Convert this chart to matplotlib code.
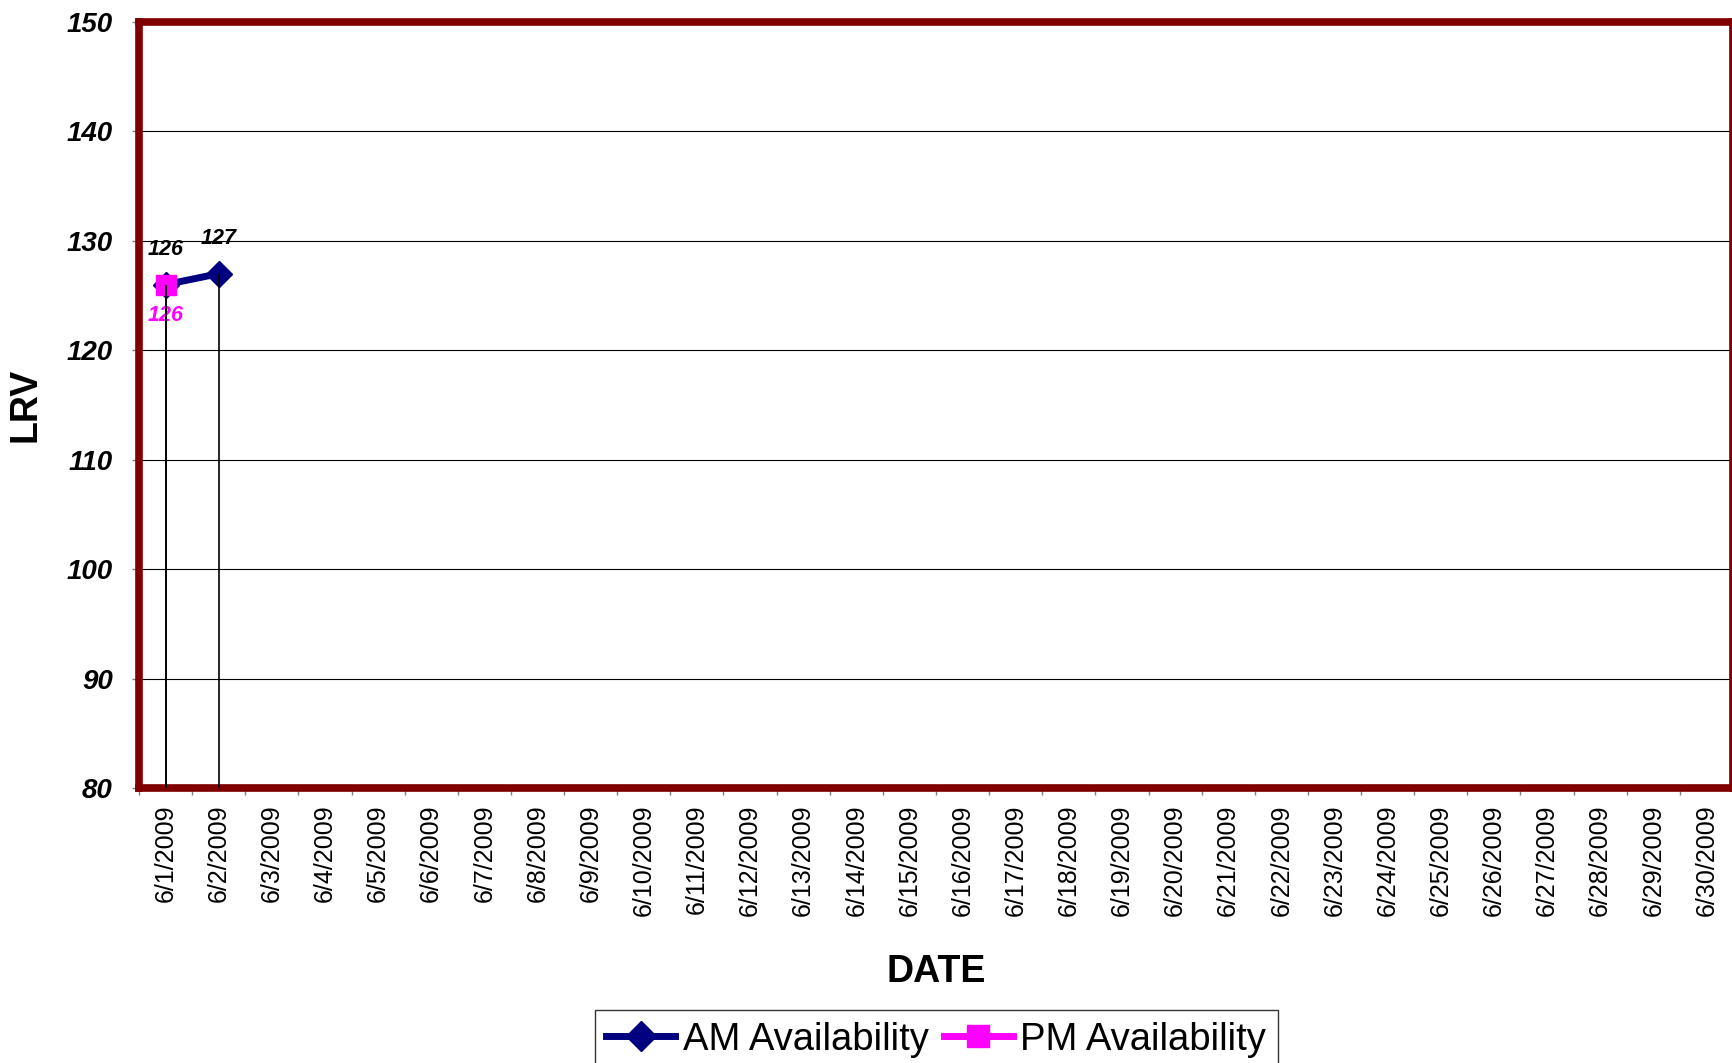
import numpy as np
import matplotlib.pyplot as plt

plt.rcParams['font.family'] = ['Liberation Sans', 'DejaVu Sans']

# categories on the x axis
dates = ["6/1/2009", "6/2/2009", "6/3/2009", "6/4/2009", "6/5/2009", "6/6/2009",
         "6/7/2009", "6/8/2009", "6/9/2009", "6/10/2009", "6/11/2009", "6/12/2009",
         "6/13/2009", "6/14/2009", "6/15/2009", "6/16/2009", "6/17/2009", "6/18/2009",
         "6/19/2009", "6/20/2009", "6/21/2009", "6/22/2009", "6/23/2009", "6/24/2009",
         "6/25/2009", "6/26/2009", "6/27/2009", "6/28/2009", "6/29/2009", "6/30/2009"]

# series
am_dates = ["6/1/2009", "6/2/2009"]
am_values = [126, 127]
pm_dates = ["6/1/2009"]
pm_values = [126]

y_ticks = [80, 90, 100, 110, 120, 130, 140, 150]

am_x = [dates.index(d) for d in am_dates]
pm_x = [dates.index(d) for d in pm_dates]

fig = plt.figure(figsize=(17.33, 10.63), dpi=100)
ax = fig.add_axes([0.0802, 0.2587, 0.9198, 0.7206])

ax.set_ylim(y_ticks[0], y_ticks[-1])
ax.set_xlim(-0.5, len(dates) - 0.5)
ax.set_yticks(y_ticks)
ax.yaxis.grid(True, color='black', linewidth=0.8)
ax.set_axisbelow(True)

dark_red = '#800000'
for s in ax.spines.values():
    s.set_color(dark_red)
    s.set_linewidth(5.5)

ax.plot(am_x, am_values, color='#000080', linewidth=5, marker='D',
        markersize=13, label='AM Availability', zorder=3)
ax.plot(pm_x, pm_values, color='#FF00FF', linewidth=5, marker='s',
        markersize=14, label='PM Availability', zorder=4)

# drop lines
ax.vlines(am_x, y_ticks[0], am_values, color='black', linewidth=1.2, zorder=5)
ax.vlines(pm_x, y_ticks[0], pm_values, color='black', linewidth=1.2, zorder=5)

for x, v in zip(am_x, am_values):
    ax.annotate(str(v), (x, v), xytext=(0, 25), textcoords='offset points',
                ha='center', va='center', fontsize=15.5, fontweight='bold',
                fontstyle='italic', color='black')
for x, v in zip(pm_x, pm_values):
    ax.annotate(str(v), (x, v), xytext=(0, -22), textcoords='offset points',
                ha='center', va='center', fontsize=15.5, fontweight='bold',
                fontstyle='italic', color='#FF00FF')

# x ticks: labels at centres, tick marks at category edges
ax.set_xticks(range(len(dates)))
ax.set_xticklabels(dates, rotation=90, fontsize=18)
ax.set_xticks(np.arange(-0.5, len(dates), 1.0), minor=True)
ax.tick_params(axis='x', which='major', length=0, pad=12)
ax.tick_params(axis='x', which='minor', length=5, color='gray', width=1)
ax.tick_params(axis='y', length=5, color='gray', width=1, pad=14)
for lab in ax.get_yticklabels():
    lab.set_fontsize(20)
    lab.set_fontweight('bold')
    lab.set_fontstyle('italic')

ax.set_ylabel('LRV', fontsize=27, fontweight='bold')
ax.yaxis.set_label_coords(-0.0596, 0.5)
ax.set_xlabel('DATE', fontsize=27, fontweight='bold')
ax.xaxis.set_label_coords(0.5, -0.217)

leg = ax.legend(loc='upper center', bbox_to_anchor=(0.5403, 0.0498),
                bbox_transform=fig.transFigure, ncol=2, fontsize=27.5,
                frameon=True, fancybox=False, edgecolor='black',
                handlelength=1.8, handletextpad=0.2, columnspacing=0.4,
                borderpad=0.3, borderaxespad=0, markerscale=1.15)
leg.get_frame().set_linewidth(1)

fig.savefig('out.png', dpi=100)
